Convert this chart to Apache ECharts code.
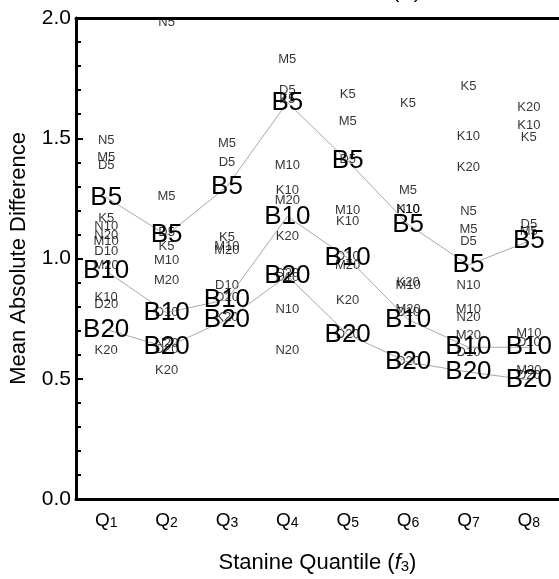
<!DOCTYPE html>
<html>
<head>
<meta charset="utf-8">
<script src="https://cdn.jsdelivr.net/npm/echarts@6/dist/echarts.min.js"></script>
<style>
  html, body { margin: 0; padding: 0; background: #fff; }
  #chart { width: 559px; height: 579px; }
</style>
</head>
<body>
<div id="chart"></div>
<script>
// quantile categories (subscript index)
const quantiles = ['1', '2', '3', '4', '5', '6', '7', '8'];

// baseline series (connected with grey lines)
const B5  = [1.254, 1.097, 1.299, 1.649, 1.406, 1.142, 0.973, 1.072];
const B10 = [0.948, 0.775, 0.829, 1.175, 1.002, 0.746, 0.631, 0.631];
const B20 = [0.705, 0.631, 0.746, 0.928, 0.684, 0.569, 0.528, 0.495];

// other methods, null = not shown
const N5  = [1.490, 1.980, null, null, null, null, 1.196, null];
const M5  = [1.420, 1.258, 1.480, 1.827, 1.571, 1.283, 1.122, 1.113];
const D5  = [1.385, 1.110, 1.398, 1.699, 1.410, null, 1.072, 1.142];
const K5  = [1.167, 1.052, 1.089, 1.660, 1.682, 1.645, 1.715, 1.505];
const N10 = [1.134, null, null, 0.788, null, 1.205, 0.887, null];
const M10 = [1.072, 0.994, 1.052, 1.386, 1.200, 0.887, 0.788, 0.689];
const D10 = [1.031, 0.775, 0.887, 0.920, 1.010, 0.775, 0.610, 0.652];
const K10 = [0.837, null, null, 1.283, 1.155, 1.204, 1.509, 1.555];
const N20 = [1.097, 0.645, null, 0.619, null, null, 0.755, null];
const M20 = [0.970, 0.907, 1.035, 1.241, 0.973, 0.790, 0.680, 0.536];
const D20 = [0.808, 0.623, 0.837, 0.940, 0.684, 0.570, null, 0.515];
const K20 = [0.619, 0.536, 0.755, 1.093, 0.825, 0.899, 1.377, 1.629];

const font = 'Arial, "Liberation Sans", sans-serif';

const small = { N5, M5, D5, K5, N10, M10, D10, K10, N20, M20, D20, K20 };
const big = { B5, B10, B20 };

const series = [];
Object.keys(small).forEach(name => {
  series.push({
    name: name,
    type: 'scatter',
    data: small[name],
    symbolSize: 1,
    itemStyle: { color: 'rgba(0,0,0,0)' },
    label: {
      show: true,
      position: 'inside',
      formatter: name,
      fontSize: 13,
      color: '#000',
      fontFamily: font
    },
    z: 3
  });
});
Object.keys(big).forEach(name => {
  series.push({
    name: name,
    type: 'line',
    data: big[name],
    symbol: 'circle',
    symbolSize: 1,
    showSymbol: true,
    itemStyle: { color: 'rgba(0,0,0,0)' },
    lineStyle: { color: '#a8a8a8', width: 1 },
    label: {
      show: true,
      position: 'inside',
      formatter: name,
      fontSize: 26,
      color: '#000',
      fontFamily: font
    },
    z: 4
  });
});

const chart = echarts.init(document.getElementById('chart'));
chart.setOption({
  animation: false,
  textStyle: { fontFamily: font, color: '#000' },
  grid: { left: 76, top: 18, right: -5, bottom: 75 },
  graphic: [{
    type: 'text',
    left: 392,
    top: -20,
    style: {
      text: '{a|(}{f|f}{s|2}{a|)}',
      rich: {
        a: { fontSize: 22, fontFamily: font, fill: '#000' },
        f: { fontSize: 22, fontFamily: font, fontStyle: 'italic', fill: '#000' },
        s: { fontSize: 15, fontFamily: font, fill: '#000', verticalAlign: 'bottom' }
      }
    }
  }],
  xAxis: [{
    type: 'category',
    data: quantiles,
    boundaryGap: true,
    axisLine: { lineStyle: { color: '#000', width: 3 } },
    axisTick: { inside: true, alignWithLabel: true, length: 6, lineStyle: { color: '#000', width: 2 } },
    axisLabel: {
      interval: 0,
      margin: 12,
      formatter: v => '{q|Q}{s|' + v + '}',
      rich: {
        q: { fontSize: 19, fontFamily: font, color: '#000', verticalAlign: 'bottom' },
        s: { fontSize: 14, fontFamily: font, color: '#000', verticalAlign: 'bottom' }
      }
    },
    name: '{n|Stanine Quantile (}{f|f}{s|3}{n|)}',
    nameLocation: 'middle',
    nameGap: 53,
    nameTextStyle: {
      rich: {
        n: { fontSize: 22, fontFamily: font, color: '#000', verticalAlign: 'bottom' },
        f: { fontSize: 22, fontFamily: font, fontStyle: 'italic', color: '#000', verticalAlign: 'bottom' },
        s: { fontSize: 15, fontFamily: font, color: '#000', verticalAlign: 'bottom' }
      }
    },
    splitLine: { show: false }
  }, {
    // top frame line
    type: 'category',
    data: quantiles,
    position: 'top',
    axisLine: { lineStyle: { color: '#000', width: 3 } },
    axisTick: { show: false },
    axisLabel: { show: false },
    splitLine: { show: false }
  }],
  yAxis: {
    type: 'value',
    min: 0,
    max: 2,
    interval: 0.5,
    axisLine: { show: true, lineStyle: { color: '#000', width: 3 } },
    axisTick: { show: true, inside: true, length: 7, lineStyle: { color: '#000', width: 2 } },
    minorTick: { show: true, splitNumber: 5, length: 5, lineStyle: { color: '#000', width: 2 } },
    axisLabel: { fontSize: 21, margin: 5, color: '#000', formatter: v => v.toFixed(1) },
    splitLine: { show: false },
    name: 'Mean Absolute Difference',
    nameLocation: 'middle',
    nameGap: 46,
    nameTextStyle: { fontSize: 22, color: '#000' }
  },
  series: series
});
</script>
</body>
</html>
